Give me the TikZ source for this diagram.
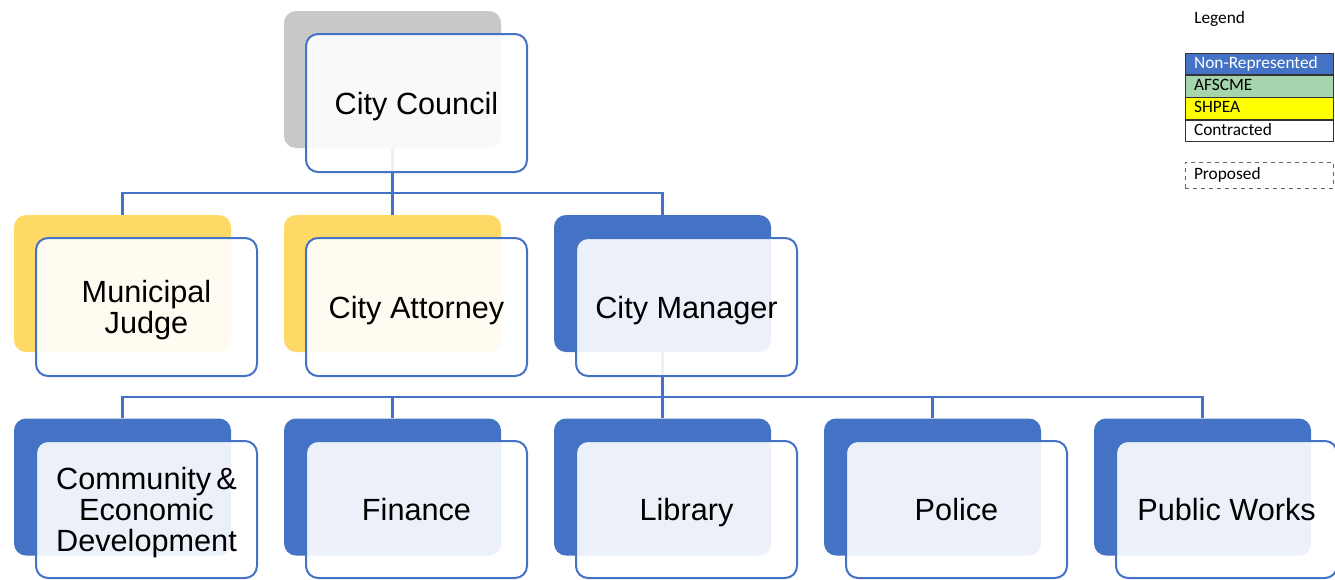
\documentclass[tikz,border=0pt]{standalone}
\usepackage{fontspec}
\setmainfont{Liberation Sans}
\newfontfamily\legfont{Carlito}
\usetikzlibrary{backgrounds}
\definecolor{nrblue}{HTML}{4472C4}
\definecolor{shyellow}{HTML}{FFD966}
\definecolor{ccgray}{HTML}{C8C8C8}
\definecolor{afgreen}{HTML}{A6D4AC}
\definecolor{shpea}{HTML}{FFFF00}
\tikzset{
  backbox/.style={rectangle, rounded corners=9pt, minimum width=162.75pt, minimum height=102.75pt, inner sep=0pt, fill=#1},
  frontbox/.style={rectangle, rounded corners=9pt, draw=nrblue, line width=1.5pt, fill=white, fill opacity=0.9, text opacity=1, minimum width=165.75pt, minimum height=103.5pt, inner sep=0pt, align=center, text depth=0pt, font=\fontsize{23}{23}\selectfont},
  lowbox/.style={frontbox, minimum height=102.75pt},
  conn/.style={draw=nrblue, line width=1.6pt},
  legrow/.style={rectangle, draw=black!80, line width=0.6pt, anchor=north west, minimum height=16.2pt, inner ysep=0pt, inner xsep=6.5pt, text width=98pt, align=left, font=\legfont\fontsize{13}{13}\selectfont, text height=9.2pt, text depth=2.6pt},
}
\begin{document}
\begin{tikzpicture}[x=0.75pt,y=-0.75pt]
\useasboundingbox (0,0) rectangle (1335,579);
% level 1
\node[backbox=ccgray] (cc-b) at (392.5,79.5) {};
\node[frontbox] (cc) at (416.5,103) {City Council};
% level 2
\node[backbox=shyellow] (mj-b) at (122.5,283.5) {};
\node[frontbox] (mj) at (146.5,307) {Municipal\\Judge};
\node[backbox=shyellow] (ca-b) at (392.5,283.5) {};
\node[frontbox] (ca) at (416.5,307) {City Attorney};
\node[backbox=nrblue] (cm-b) at (662.5,283.5) {};
\node[frontbox] (cm) at (686.5,307) {City Manager};
% level 3
\node[backbox=nrblue] (cd-b) at (122.5,487) {};
\node[lowbox] (cd) at (146.5,509.5) {Community\,\&\\[0.5pt]Economic\\[0.5pt]Development};
\node[backbox=nrblue] (fin-b) at (392.5,487) {};
\node[lowbox] (fin) at (416.5,509.5) {Finance};
\node[backbox=nrblue] (lib-b) at (662.5,487) {};
\node[lowbox] (lib) at (686.5,509.5) {Library};
\node[backbox=nrblue] (pol-b) at (932.5,487) {};
\node[lowbox] (pol) at (956.5,509.5) {Police};
\node[backbox=nrblue] (pw-b) at (1202.5,487) {};
\node[lowbox] (pw) at (1226.5,509.5) {Public Works};
% junctions
\coordinate (j1) at (392.5,193);
\coordinate (j2) at (662.5,397);
\begin{scope}[on background layer]
\draw[conn] (cc-b.south) -- (j1);
\draw[conn] (mj-b.north) |- (j1) -| (cm-b.north);
\draw[conn] (j1) -- (ca-b.north);
\draw[conn] (cm-b.south) -- (j2);
\draw[conn] (cd-b.north) |- (j2) -| (pw-b.north);
\draw[conn] (fin-b.north) -- (fin-b.north |- j2);
\draw[conn] (j2) -- (lib-b.north);
\draw[conn] (pol-b.north) -- (pol-b.north |- j2);
\end{scope}
% legend
\node[anchor=west, inner sep=0pt, font=\legfont\fontsize{13}{13}\selectfont] (leg) at (1194,19) {Legend};
\node[legrow, fill=nrblue, text=white] (l1) at (1185,52.5) {Non-Represented};
\node[legrow, fill=afgreen] (l2) at (l1.south west) {AFSCME};
\node[legrow, fill=shpea] (l3) at (l2.south west) {SHPEA};
\node[legrow, fill=white] (l4) at (l3.south west) {Contracted};
\node[legrow, draw=black!60, dashed, line width=0.5pt, minimum height=19.5pt] (l5) at (1185,162) {Proposed};
\end{tikzpicture}
\end{document}
